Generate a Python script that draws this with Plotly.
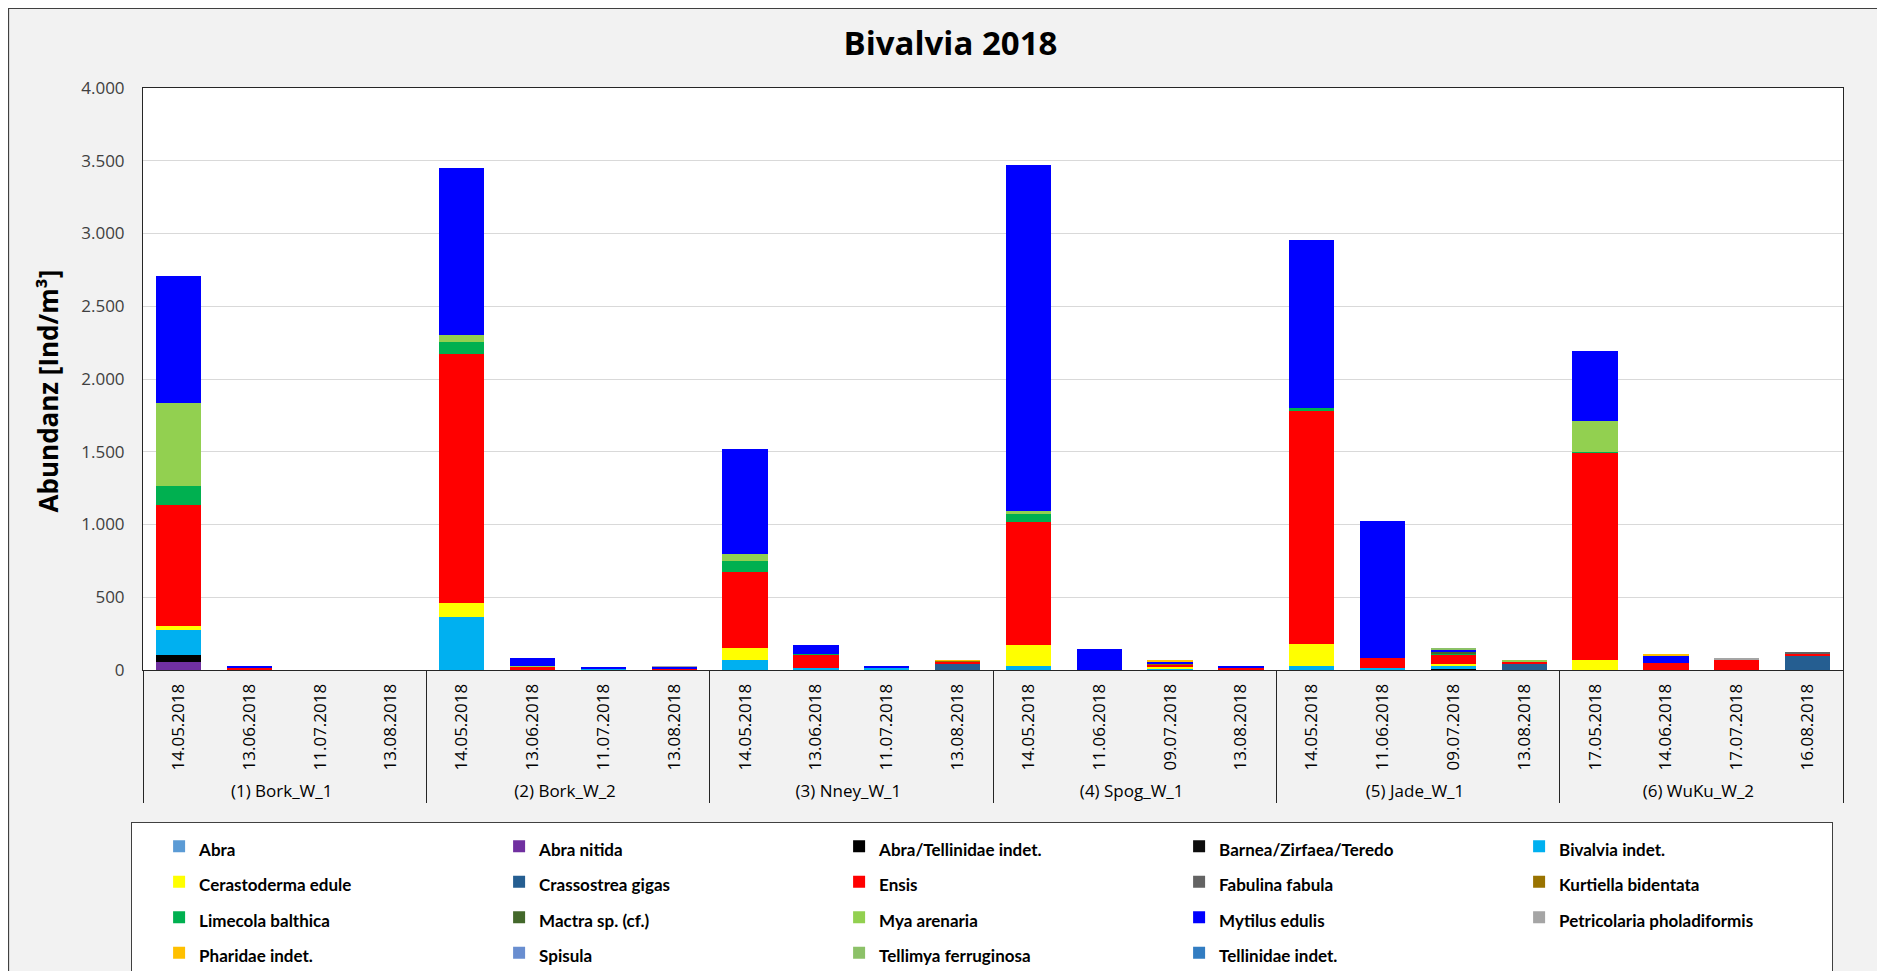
import plotly.graph_objects as go

# station groups and sampling dates (outer / inner category levels)
stations = ["(1) Bork_W_1"] * 4 + ["(2) Bork_W_2"] * 4 + ["(3) Nney_W_1"] * 4 + \
           ["(4) Spog_W_1"] * 4 + ["(5) Jade_W_1"] * 4 + ["(6) WuKu_W_2"] * 4
dates = [
    "14.05.2018", "13.06.2018", "11.07.2018", "13.08.2018",
    "14.05.2018", "13.06.2018", "11.07.2018", "13.08.2018",
    "14.05.2018", "13.06.2018", "11.07.2018", "13.08.2018",
    "14.05.2018", "11.06.2018", "09.07.2018", "13.08.2018",
    "14.05.2018", "11.06.2018", "09.07.2018", "13.08.2018",
    "17.05.2018", "14.06.2018", "17.07.2018", "16.08.2018",
]

# abundance [Ind/m3] per taxon, one value per station/date
abra = [0] * 24
abra_nitida = [57, 0, 0, 0, 0, 0, 0, 5, 0, 0, 0, 0, 0, 0, 0, 0, 0, 0, 0, 0, 0, 0, 0, 0]
abra_tellinidae = [46, 0, 0, 0, 0, 0, 0, 0, 0, 0, 0, 0, 0, 0, 0, 0, 0, 0, 9, 0, 0, 0, 0, 0]
barnea = [0] * 24
bivalvia_indet = [172, 0, 0, 0, 362, 3, 4, 0, 71, 14, 12, 0, 30, 3, 10, 0, 28, 11, 20, 0, 0, 0, 0, 0]
cerastoderma = [30, 0, 0, 0, 101, 0, 0, 0, 78, 0, 0, 0, 140, 0, 10, 0, 149, 0, 9, 0, 69, 0, 0, 0]
crassostrea = [0, 0, 0, 0, 0, 0, 0, 0, 0, 0, 0, 39, 0, 0, 0, 6, 0, 0, 0, 48, 0, 0, 0, 103]
ensis = [830, 18, 0, 0, 1707, 18, 0, 6, 523, 95, 0, 21, 848, 0, 20, 10, 1603, 73, 69, 9, 1425, 48, 72, 12]
fabulina = [0, 0, 0, 0, 0, 0, 0, 0, 0, 0, 0, 0, 0, 0, 0, 0, 0, 0, 0, 0, 0, 0, 0, 5]
kurtiella = [0, 0, 0, 0, 0, 0, 0, 0, 0, 0, 0, 3, 0, 0, 3, 0, 0, 0, 0, 0, 0, 0, 0, 0]
limecola = [130, 0, 0, 0, 82, 4, 0, 0, 78, 3, 0, 0, 53, 0, 0, 0, 21, 0, 8, 0, 3, 0, 0, 0]
mactra = [0, 0, 0, 0, 0, 0, 0, 0, 0, 0, 0, 0, 0, 0, 0, 0, 0, 0, 8, 0, 0, 0, 0, 0]
mya = [570, 0, 0, 0, 51, 5, 0, 0, 44, 0, 0, 0, 25, 0, 0, 0, 0, 0, 0, 12, 213, 0, 0, 0]
mytilus = [875, 8, 0, 0, 1150, 53, 17, 10, 726, 63, 18, 0, 2378, 143, 14, 6, 1154, 938, 16, 0, 484, 55, 0, 0]
petricolaria = [0, 0, 0, 0, 0, 0, 0, 3, 0, 0, 0, 0, 0, 0, 3, 0, 0, 0, 0, 0, 0, 0, 4, 0]
pharidae = [0, 0, 0, 0, 0, 0, 0, 0, 0, 0, 0, 2, 0, 0, 4, 0, 0, 0, 0, 0, 0, 10, 0, 0]
spisula = [0, 0, 0, 0, 0, 0, 0, 0, 0, 0, 0, 0, 0, 0, 0, 0, 0, 0, 5, 0, 0, 0, 0, 0]
tellimya = [0, 0, 0, 0, 0, 0, 0, 0, 0, 0, 0, 0, 0, 0, 0, 0, 0, 0, 4, 0, 0, 0, 0, 0]
tellinidae = [0] * 24

series = [
    ("Abra", abra, "#5B9BD5"),
    ("Abra nitida", abra_nitida, "#7030A0"),
    ("Abra/Tellinidae indet.", abra_tellinidae, "#000000"),
    ("Barnea/Zirfaea/Teredo", barnea, "#0D0D0D"),
    ("Bivalvia indet.", bivalvia_indet, "#00B0F0"),
    ("Cerastoderma edule", cerastoderma, "#FFFF00"),
    ("Crassostrea gigas", crassostrea, "#255E91"),
    ("Ensis", ensis, "#FF0000"),
    ("Fabulina fabula", fabulina, "#636363"),
    ("Kurtiella bidentata", kurtiella, "#997300"),
    ("Limecola balthica", limecola, "#00B050"),
    ("Mactra sp. (cf.)", mactra, "#43682B"),
    ("Mya arenaria", mya, "#92D050"),
    ("Mytilus edulis", mytilus, "#0000FF"),
    ("Petricolaria pholadiformis", petricolaria, "#A5A5A5"),
    ("Pharidae indet.", pharidae, "#FFC000"),
    ("Spisula", spisula, "#698ED0"),
    ("Tellimya ferruginosa", tellimya, "#8CC168"),
    ("Tellinidae indet.", tellinidae, "#327DC2"),
]

# plotly orders inner multicategory labels by first appearance over all groups,
# so feed the early 13.08 samples after the Spog dates 11.06 / 09.07
order = [0, 1, 2, 4, 5, 6, 8, 9, 10, 12, 13, 14, 3, 7, 11, 15] + list(range(16, 24))
x_outer = [stations[i] for i in order]
x_inner = [dates[i] for i in order]

fig = go.Figure()
for name, values, color in series:
    fig.add_trace(go.Bar(
        x=[x_outer, x_inner],
        y=[values[i] for i in order],
        name='<span style="font-size:17px">' + name + '</span>',
        marker=dict(color=color, line=dict(width=0)),
    ))

fig.update_layout(
    width=1885,
    height=971,
    barmode="stack",
    bargap=0.36,
    separators=",.",
    paper_bgcolor="#F2F2F2",
    plot_bgcolor="white",
    margin=dict(l=135, r=50, t=80, b=309, autoexpand=False),
    font=dict(family="Lato", color="black"),
    title=dict(
        text="<b>Bivalvia 2018</b>",
        x=0.5, xanchor="center", y=0.963, yanchor="middle",
        font=dict(family="Open Sans", size=33, color="black"),
    ),
    legend=dict(
        orientation="h",
        x=-0.007, xanchor="left",
        y=-0.262, yanchor="top",
        entrywidth=268,
        indentation=27,
        traceorder="normal",
        bgcolor="white",
        bordercolor="#404040",
        borderwidth=1,
        font=dict(family="Lato", size=25, color="black", weight="bold"),
    ),
    shapes=[dict(
        type="rect", xref="paper", yref="paper",
        x0=-0.0791, x1=1.2, y0=-0.6, y1=1.1366,
        line=dict(color="#404040", width=1.2),
        fillcolor="rgba(0,0,0,0)", layer="below",
    )],
    annotations=[dict(
        text="<b>Abundanz [Ind/m³]</b>",
        textangle=-90,
        xref="paper", yref="paper",
        x=-0.056, y=0.48,
        xanchor="center", yanchor="middle",
        showarrow=False,
        font=dict(family="Open Sans", size=26, color="black"),
    )],
)

fig.update_yaxes(
    range=[0, 4000],
    dtick=500,
    tickformat=",d",
    showgrid=True,
    gridcolor="#D9D9D9",
    gridwidth=1,
    showline=True,
    linecolor="#262626",
    linewidth=1,
    mirror=True,
    ticks="",
    ticklabelstandoff=14,
    tickfont=dict(family="Open Sans", size=17, color="#404040"),
    zeroline=False,
)

fig.update_xaxes(
    type="multicategory",
    tickangle=-90,
    showline=True,
    linecolor="#262626",
    linewidth=1,
    mirror=True,
    showdividers=True,
    dividercolor="#262626",
    dividerwidth=1,
    ticks="",
    ticklabelstandoff=6,
    tickfont=dict(family="Open Sans", size=17, color="black"),
)

fig.write_html("out.html")
